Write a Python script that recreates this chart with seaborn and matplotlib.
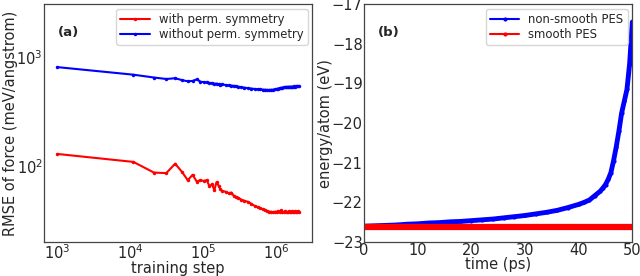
import numpy as np
import pandas as pd
import matplotlib
matplotlib.use("Agg")
import matplotlib.pyplot as plt
import seaborn as sns

# panel (a): RMSE of force vs training step
steps = [1e3, 1.1e4, 2.1e4, 3.1e4, 4.1e4, 5.1e4, 6.1e4, 7.1e4, 8.1e4, 9.1e4,
         1.01e5, 1.11e5, 1.21e5, 1.31e5, 1.41e5, 1.51e5, 1.61e5, 1.71e5, 1.81e5, 2.01e5,
         2.21e5, 2.41e5, 2.61e5, 2.81e5, 3.01e5, 3.31e5, 3.61e5, 4.01e5, 4.51e5, 5.01e5,
         5.51e5, 6.01e5, 6.51e5, 7.01e5, 7.51e5, 8.01e5, 8.51e5, 9.01e5, 9.51e5, 1.001e6,
         1.051e6, 1.101e6, 1.151e6, 1.201e6, 1.251e6, 1.301e6, 1.351e6, 1.401e6, 1.451e6, 1.501e6,
         1.551e6, 1.601e6, 1.651e6, 1.701e6, 1.751e6, 1.801e6, 1.851e6, 1.901e6, 1.951e6, 2.001e6]
rmse_perm = [129, 109, 87, 86, 105, 88, 74, 83, 72, 74,
             73, 74, 65, 68, 60, 71, 66, 61, 59, 58,
             56, 57, 53, 52, 51, 49, 48, 47, 45, 43,
             42, 41, 40, 39.5, 38.5, 38, 38, 37.5, 38, 38,
             38.5, 37.5, 39, 38, 37.5, 38.5, 38, 37.5, 38, 38.5,
             37.5, 38, 38.5, 37.5, 38, 38.5, 38, 37.5, 38.5, 38]
rmse_noperm = [810, 690, 650, 630, 640, 615, 600, 605, 625, 595,
               590, 585, 580, 578, 570, 572, 565, 560, 562, 555,
               550, 548, 545, 540, 535, 530, 525, 520, 515, 510,
               507, 505, 503, 502, 500, 500, 502, 503, 505, 510,
               515, 520, 522, 526, 528, 530, 532, 533, 535, 534,
               536, 535, 537, 536, 538, 537, 539, 538, 540, 538]

# panel (b): energy per atom vs time
time_ps = [0, 2, 4, 6, 8, 10, 12, 14, 16, 18, 20, 22, 24, 26, 28, 30, 32, 34, 36, 38,
           40, 41, 42, 43, 44, 44.5, 45, 45.5, 46, 46.5, 47, 47.5, 48, 48.5, 49, 49.5, 50]
energy_nonsmooth = [-22.60, -22.59, -22.58, -22.57, -22.55, -22.54, -22.52, -22.51, -22.49, -22.48,
                    -22.46, -22.44, -22.42, -22.39, -22.36, -22.33, -22.29, -22.25, -22.20, -22.13,
                    -22.05, -22.00, -21.94, -21.83, -21.72, -21.64, -21.55, -21.42, -21.25, -20.95,
                    -20.60, -20.20, -19.75, -19.45, -19.15, -18.50, -17.45]
time_smooth = [0, 5, 10, 15, 20, 25, 30, 35, 40, 45, 50]
energy_smooth = [-22.63] * len(time_smooth)

sns.set_style("white")
plt.rcParams['font.family'] = ['DejaVu Sans']
FS = 10.5

fig = plt.figure(figsize=(6.4, 2.76), dpi=100)
ax1 = fig.add_axes([0.069, 0.123, 0.419, 0.862])
ax2 = fig.add_axes([0.569, 0.123, 0.419, 0.862])

df_a = pd.DataFrame({
    'step': steps + steps,
    'rmse': rmse_perm + rmse_noperm,
    'label': ['with perm. symmetry'] * len(steps) + ['without perm. symmetry'] * len(steps),
})
sns.lineplot(data=df_a, x='step', y='rmse', hue='label', palette=['#ff0000', '#0000ff'],
             marker='.', markersize=5, markeredgewidth=0, linewidth=1.5,
             estimator=None, sort=False, ax=ax1)
ax1.set_xscale('log')
ax1.set_yscale('log')
ax1.set_xlim(10 ** 2.82, 10 ** 6.49)
ax1.set_ylim(20, 3070)
ax1.set_xlabel('training step', fontsize=FS, labelpad=-1)
ax1.set_ylabel('RMSE of force (meV/angstrom)', fontsize=FS, labelpad=-1)
ax1.text(0.05, 0.88, '(a)', transform=ax1.transAxes, fontsize=9.5, fontweight='bold', va='center')
ax1.legend(loc='upper right', fontsize=8.4, frameon=True, handlelength=2.5,
           borderaxespad=0.4, labelspacing=0.15, borderpad=0.35)

df_b = pd.DataFrame({
    'time': time_ps + time_smooth,
    'energy': energy_nonsmooth + energy_smooth,
    'label': ['non-smooth PES'] * len(time_ps) + ['smooth PES'] * len(time_smooth),
})
sns.lineplot(data=df_b[df_b['label'] == 'non-smooth PES'], x='time', y='energy',
             color='#0000ff', marker='.', markersize=6, markeredgewidth=0, linewidth=3.5,
             estimator=None, sort=False, ax=ax2, label='non-smooth PES')
sns.lineplot(data=df_b[df_b['label'] == 'smooth PES'], x='time', y='energy',
             color='#ff0000', marker='.', markersize=6, markeredgewidth=0, linewidth=4.5,
             estimator=None, sort=False, ax=ax2, label='smooth PES')
ax2.set_xlim(0, 50)
ax2.set_ylim(-23, -17)
ax2.set_xlabel('time (ps)', fontsize=FS, labelpad=-1)
ax2.set_ylabel('energy/atom (eV)', fontsize=FS, labelpad=-1)
ax2.text(0.05, 0.88, '(b)', transform=ax2.transAxes, fontsize=9.5, fontweight='bold', va='center')
leg = ax2.legend(loc='upper right', fontsize=8.4, frameon=True, handlelength=2.5,
                 borderaxespad=0.4, labelspacing=0.15, borderpad=0.35)
for line in leg.get_lines():
    line.set_linewidth(1.5)

for ax in (ax1, ax2):
    ax.tick_params(which='both', direction='in', labelsize=FS, pad=1)
    ax.tick_params(which='major', length=3.5, width=0.8)
    ax.tick_params(which='minor', length=2, width=0.6)
    for sp in ax.spines.values():
        sp.set_color('#444444')
        sp.set_linewidth(0.9)

fig.savefig('out.png', dpi=100)
